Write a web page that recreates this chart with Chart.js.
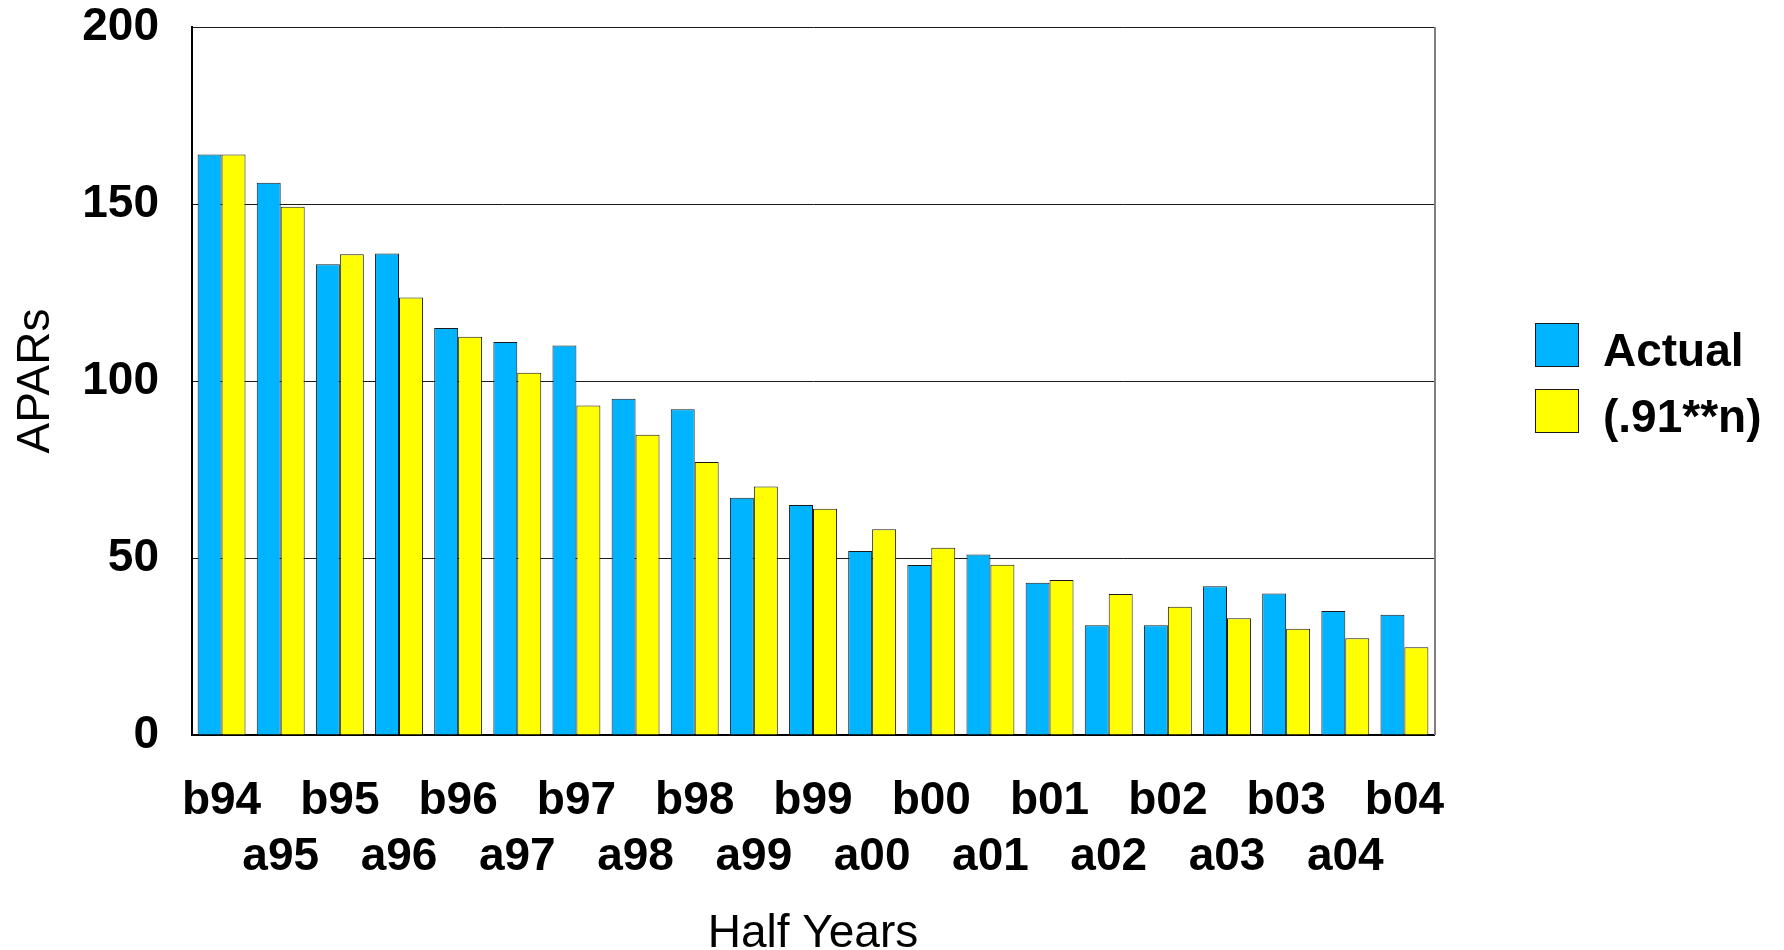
<!DOCTYPE html>
<html>
<head>
<meta charset="utf-8">
<script src="https://cdn.jsdelivr.net/npm/chart.js@4/dist/chart.umd.min.js"></script>
<style>
  html, body { margin: 0; padding: 0; background: #ffffff; }
  #wrap { width: 1784px; height: 950px; }
</style>
</head>
<body>
<div id="wrap"><canvas id="apars"></canvas></div>
<script>
// Half-year periods: "b" = first half, "a" = second half of the year
const halfYears = ['b94','a95','b95','a96','b96','a97','b97','a98','b98','a99','b99',
                   'a00','b00','a01','b01','a02','b02','a03','b03','a04','b04'];

// Reported APAR counts per half year
const actual = [164, 156, 133, 136, 115, 111, 110, 95, 92, 67, 65,
                52, 48, 51, 43, 31, 31, 42, 40, 35, 34];

// Projected counts following a 0.91 decay per half year
const projected = [164, 149.2, 135.8, 123.6, 112.5, 102.3, 93.1, 84.8, 77.1, 70.2, 63.9,
                   58.1, 52.9, 48.1, 43.8, 39.8, 36.2, 33.0, 30.0, 27.3, 24.8];

const seriesNames = ['Actual', '(.91**n)'];
const yTicks = [0, 50, 100, 150, 200];

const FONT = "'Liberation Sans', Arial, sans-serif";

// Right edge of the frame and the legend at the right of the plot
const framePlugin = {
  id: 'frameAndLegend',
  afterDraw(chart) {
    const { ctx, chartArea: a } = chart;
    ctx.save();
    ctx.strokeStyle = '#808080';
    ctx.lineWidth = 2;
    ctx.beginPath();
    ctx.moveTo(a.right + 1, a.top);
    ctx.lineTo(a.right + 1, a.bottom);
    ctx.stroke();

    const boxX = a.right + 101, box = 44;
    chart.data.datasets.forEach((ds, i) => {
      const top = 323 + i * 66;
      ctx.fillStyle = ds.backgroundColor;
      ctx.fillRect(boxX, top, box, box);
      ctx.strokeStyle = '#1a1a1a';
      ctx.lineWidth = 1;
      ctx.strokeRect(boxX + 0.5, top + 0.5, box - 1, box - 1);
      ctx.fillStyle = '#000000';
      ctx.font = 'bold 46px ' + FONT;
      ctx.textAlign = 'left';
      ctx.textBaseline = 'middle';
      ctx.fillText(ds.label, boxX + box + 24, top + box / 2 + 8);
    });
    ctx.restore();
  }
};

new Chart(document.getElementById('apars'), {
  type: 'bar',
  data: {
    labels: halfYears,
    datasets: [
      { label: seriesNames[0], data: actual, backgroundColor: '#00B4FF',
        borderColor: '#1a1a1a', borderWidth: 1 },
      { label: seriesNames[1], data: projected, backgroundColor: '#FFFF00',
        borderColor: '#1a1a1a', borderWidth: 1 }
    ]
  },
  options: {
    responsive: true,
    maintainAspectRatio: false,
    animation: false,
    devicePixelRatio: 1,
    layout: { padding: { left: 0, right: 350, top: 27, bottom: 0 } },
    datasets: { bar: { categoryPercentage: 0.81, barPercentage: 1.0 } },
    plugins: { legend: { display: false }, tooltip: { enabled: false } },
    scales: {
      x: {
        grid: { display: false, drawTicks: false },
        border: { display: true, color: '#000000', width: 2 },
        afterFit(scale) {
          scale.height = 215;
          scale.paddingLeft = 0;
          scale.paddingRight = 0;
        },
        ticks: {
          autoSkip: false,
          maxRotation: 0,
          minRotation: 0,
          padding: 38,
          color: '#000000',
          font: { family: FONT, size: 46, weight: 'bold', lineHeight: 56 / 46 },
          // staggered two-row labels: "b" periods on top, "a" periods below
          callback(value, index) {
            const name = halfYears[index];
            return index % 2 === 0 ? [name, ''] : ['', name];
          }
        },
        title: {
          display: true,
          text: 'Half Years',
          color: '#000000',
          font: { family: FONT, size: 46, weight: 'normal', lineHeight: 0.7 },
          padding: { top: 0, bottom: 0 }
        }
      },
      y: {
        min: 0,
        max: 200,
        afterFit(scale) {
          scale.width = 192;
          scale.paddingTop = 0;
          scale.paddingBottom = 0;
        },
        afterBuildTicks(scale) { scale.ticks = yTicks.map(v => ({ value: v })); },
        grid: { color: '#1a1a1a', lineWidth: 1, drawTicks: false },
        border: { display: true, color: '#000000', width: 2 },
        ticks: {
          padding: 33,
          color: '#000000',
          font: { family: FONT, size: 46, weight: 'bold', lineHeight: 1 }
        },
        title: {
          display: true,
          text: 'APARs',
          color: '#000000',
          font: { family: FONT, size: 46, weight: 'normal', lineHeight: 1 },
          padding: { top: 13, bottom: 0 }
        }
      }
    }
  },
  plugins: [framePlugin]
});
</script>
</body>
</html>
